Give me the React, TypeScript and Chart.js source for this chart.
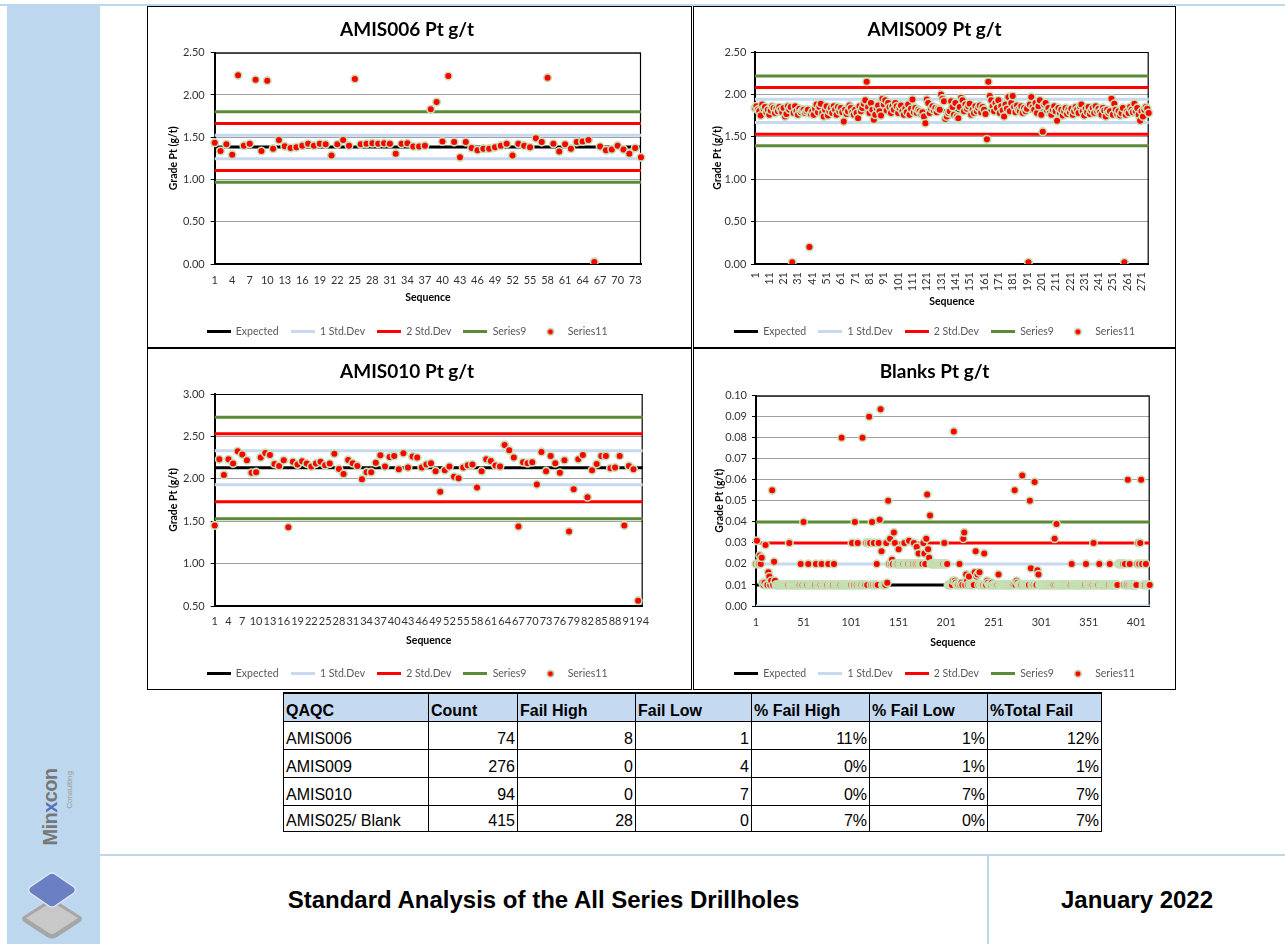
import React, { useEffect, useRef } from 'react';
import { Chart, registerables } from 'chart.js';

Chart.register(...registerables);

// ---------------- DATA ----------------
const LEGEND_LABELS = ['Expected', '1 Std.Dev', '2 Std.Dev', 'Series9', 'Series11'];

const AMIS006_VALUES = [
  1.435, 1.337, 1.416, 1.293, 2.232, 1.40, 1.423, 2.18, 1.337, 2.169,
  1.364, 1.467, 1.392, 1.372, 1.38, 1.40, 1.423, 1.40, 1.423, 1.416,
  1.285, 1.416, 1.467, 1.40, 2.19, 1.416, 1.423, 1.43, 1.423, 1.43,
  1.423, 1.305, 1.423, 1.43, 1.39, 1.39, 1.40, 1.83, 1.916, 1.45,
  2.224, 1.443, 1.262, 1.443, 1.372, 1.345, 1.364, 1.364, 1.38, 1.40,
  1.423, 1.285, 1.423, 1.40, 1.38, 1.487, 1.443, 2.204, 1.423, 1.33,
  1.416, 1.364, 1.443, 1.45, 1.467, 0.024, 1.39, 1.345, 1.356, 1.40,
  1.356, 1.305, 1.372, 1.262,
];
const AMIS006_EXPECTED = 1.383;
const AMIS006_SD1 = [1.522, 1.244];
const AMIS006_SD2 = [1.661, 1.105];
const AMIS006_SD3 = [1.8, 0.966];

const AMIS009_VALUES = [
  1.84, 1.86, 1.82, 1.80, 1.75, 1.88, 1.83, 1.85, 1.79, 1.82,
  1.76, 1.81, 1.86, 1.84, 1.78, 1.83, 1.80, 1.85, 1.82, 1.79,
  1.84, 1.74, 1.77, 1.86, 1.82, 1.85, 0.02, 1.78, 1.86, 1.80,
  1.76, 1.83, 1.79, 1.81, 1.82, 1.78, 1.80, 1.82, 0.20, 1.77,
  1.80, 1.76, 1.83, 1.88, 1.79, 1.85, 1.89, 1.78, 1.74, 1.82,
  1.86, 1.75, 1.80, 1.84, 1.78, 1.86, 1.82, 1.76, 1.85, 1.80,
  1.84, 1.79, 1.68, 1.82, 1.77, 1.80, 1.87, 1.84, 1.79, 1.76,
  1.82, 1.78, 1.72, 1.86, 1.80, 1.84, 1.89, 1.93, 2.15, 1.85,
  1.78, 1.90, 1.82, 1.70, 1.76, 1.84, 1.87, 1.80, 1.75, 1.95,
  1.88, 1.93, 1.81, 1.90, 1.85, 1.78, 1.86, 1.82, 1.90, 1.86,
  1.78, 1.84, 1.87, 1.80, 1.76, 1.83, 1.79, 1.88, 1.76, 1.83,
  1.94, 1.79, 1.84, 1.78, 1.82, 1.80, 1.77, 1.79, 1.74, 1.66,
  1.94, 1.90, 1.78, 1.83, 1.86, 1.81, 1.84, 1.79, 1.83, 1.82,
  2.00, 1.95, 1.92, 1.71, 1.74, 1.78, 1.80, 1.92, 1.85, 1.76,
  1.90, 1.74, 1.72, 1.85, 1.96, 1.93, 1.80, 1.88, 1.83, 1.86,
  1.89, 1.76, 1.82, 1.78, 1.86, 1.80, 1.84, 1.87, 1.79, 1.85,
  1.82, 1.77, 1.47, 2.15, 1.98, 1.93, 1.86, 1.80, 1.90, 1.84,
  1.93, 1.78, 1.86, 1.81, 1.74, 1.88, 1.83, 1.97, 1.80, 1.90,
  1.98, 1.85, 1.79, 1.87, 1.82, 1.80, 1.86, 1.78, 1.84, 1.80,
  1.83, 0.02, 1.88, 1.97, 1.85, 1.82, 1.90, 1.78, 1.86, 1.93,
  1.76, 1.56, 1.88, 1.90, 1.81, 1.84, 1.78, 1.76, 1.82, 1.86,
  1.80, 1.69, 1.84, 1.78, 1.82, 1.75, 1.80, 1.84, 1.77, 1.82,
  1.79, 1.83, 1.76, 1.80, 1.85, 1.82, 1.78, 1.86, 1.88, 1.80,
  1.75, 1.83, 1.79, 1.85, 1.77, 1.81, 1.84, 1.78, 1.86, 1.80,
  1.83, 1.79, 1.76, 1.84, 1.81, 1.74, 1.82, 1.78, 1.80, 1.95,
  1.76, 1.89, 1.82, 1.77, 1.80, 1.75, 1.78, 1.84, 0.02, 1.76,
  1.80, 1.78, 1.85, 1.82, 1.79, 1.89, 1.80, 1.84, 1.76, 1.69,
  1.80, 1.74, 1.82, 1.85, 1.83, 1.78,
];
const AMIS009_EXPECTED = 1.805;
const AMIS009_SD1 = [1.942, 1.668];
const AMIS009_SD2 = [2.08, 1.53];
const AMIS009_SD3 = [2.218, 1.393];

const AMIS010_VALUES = [
  1.45, 2.23, 2.046, 2.23, 2.18, 2.325, 2.286, 2.22, 2.07, 2.078,
  2.25, 2.305, 2.28, 2.176, 2.152, 2.22, 1.43, 2.20, 2.17, 2.207,
  2.18, 2.144, 2.18, 2.20, 2.16, 2.18, 2.294, 2.117, 2.058, 2.223,
  2.184, 2.152, 1.995, 2.078, 2.078, 2.188, 2.278, 2.144, 2.258, 2.27,
  2.113, 2.30, 2.133, 2.262, 2.25, 2.133, 2.168, 2.184, 2.09, 1.846,
  2.10, 2.144, 2.023, 2.007, 2.133, 2.16, 2.168, 1.897, 2.09, 2.23,
  2.211, 2.156, 2.144, 2.40, 2.337, 2.25, 1.438, 2.195, 2.184, 2.195,
  1.932, 2.317, 2.09, 2.27, 2.184, 2.07, 2.22, 1.379, 1.877, 2.23,
  2.28, 1.783, 2.10, 2.176, 2.27, 2.27, 2.125, 2.133, 2.27, 1.45,
  2.152, 2.113, 0.563, null,
];
const AMIS010_EXPECTED = 2.13;
const AMIS010_SD1 = [2.33, 1.93];
const AMIS010_SD2 = [2.53, 1.73];
const AMIS010_SD3 = [2.725, 1.528];

const BLANK_VALUES = [
  0.02, 0.031, 0.02, 0.02, 0.024, 0.02, 0.023, 0.011, 0.01, 0.011,
  0.029, 0.01, 0.01, 0.016, 0.014, 0.01, 0.012, 0.055, 0.01, 0.021,
  0.012, 0.01, 0.01, 0.01, 0.01, 0.01, 0.01, 0.01, 0.01, 0.01,
  0.01, 0.01, 0.01, 0.01, 0.01, 0.03, 0.01, 0.01, 0.01, 0.01,
  0.01, 0.01, 0.01, 0.01, 0.01, 0.01, 0.01, 0.02, 0.01, 0.01,
  0.04, 0.01, 0.01, 0.01, 0.01, 0.02, 0.01, 0.01, 0.01, 0.01,
  0.01, 0.01, 0.01, 0.02, 0.01, 0.01, 0.01, 0.01, 0.01, 0.02,
  0.01, 0.01, 0.01, 0.01, 0.01, 0.01, 0.02, 0.01, 0.01, 0.01,
  0.01, 0.01, 0.02, 0.01, 0.01, 0.01, 0.01, 0.01, 0.01, 0.01,
  0.08, 0.01, 0.01, 0.01, 0.01, 0.01, 0.01, 0.01, 0.01, 0.01,
  0.01, 0.03, 0.01, 0.01, 0.04, 0.01, 0.01, 0.03, 0.01, 0.01,
  0.01, 0.01, 0.08, 0.01, 0.01, 0.01, 0.03, 0.01, 0.03, 0.09,
  0.03, 0.01, 0.04, 0.01, 0.03, 0.01, 0.01, 0.02, 0.01, 0.03,
  0.041, 0.0935, 0.026, 0.01, 0.01, 0.01, 0.01, 0.03, 0.011, 0.05,
  0.02, 0.032, 0.02, 0.022, 0.02, 0.035, 0.03, 0.02, 0.02, 0.02,
  0.027, 0.02, 0.02, 0.02, 0.02, 0.02, 0.03, 0.02, 0.02, 0.02,
  0.02, 0.031, 0.02, 0.02, 0.02, 0.02, 0.03, 0.02, 0.02, 0.028,
  0.02, 0.025, 0.02, 0.02, 0.02, 0.02, 0.03, 0.025, 0.02, 0.032,
  0.053, 0.027, 0.023, 0.043, 0.02, 0.02, 0.02, 0.02, 0.02, 0.02,
  0.02, 0.02, 0.02, 0.02, 0.02, 0.02, 0.02, 0.02, 0.03, 0.02,
  0.02, 0.02, 0.01, 0.01, 0.01, 0.01, 0.01, 0.012, 0.083, 0.012,
  0.011, 0.01, 0.01, 0.01, 0.02, 0.01, 0.011, 0.01, 0.032, 0.035,
  0.01, 0.015, 0.012, 0.01, 0.014, 0.01, 0.01, 0.01, 0.01, 0.01,
  0.016, 0.026, 0.014, 0.015, 0.01, 0.016, 0.01, 0.01, 0.01, 0.01,
  0.025, 0.01, 0.01, 0.012, 0.011, 0.01, 0.01, 0.01, 0.011, 0.01,
  0.01, 0.01, 0.01, 0.01, 0.01, 0.015, 0.01, 0.01, 0.01, 0.01,
  0.01, 0.01, 0.01, 0.01, 0.01, 0.01, 0.01, 0.01, 0.01, 0.01,
  0.01, 0.01, 0.055, 0.01, 0.012, 0.011, 0.01, 0.01, 0.01, 0.01,
  0.062, 0.01, 0.01, 0.01, 0.01, 0.01, 0.01, 0.01, 0.05, 0.018,
  0.01, 0.01, 0.01, 0.059, 0.01, 0.01, 0.017, 0.015, 0.01, 0.01,
  0.01, 0.01, 0.01, 0.01, 0.01, 0.01, 0.01, 0.01, 0.01, 0.01,
  0.01, 0.01, 0.01, 0.01, 0.032, 0.01, 0.039, 0.01, 0.01, 0.01,
  0.01, 0.01, 0.01, 0.01, 0.01, 0.01, 0.01, 0.01, 0.01, 0.01,
  0.01, 0.01, 0.02, 0.01, 0.01, 0.01, 0.01, 0.01, 0.01, 0.01,
  0.01, 0.01, 0.01, 0.01, 0.01, 0.01, 0.01, 0.02, 0.01, 0.01,
  0.01, 0.01, 0.01, 0.01, 0.01, 0.03, 0.01, 0.01, 0.01, 0.01,
  0.01, 0.02, 0.01, 0.01, 0.01, 0.01, 0.01, 0.01, 0.01, 0.01,
  0.01, 0.01, 0.02, 0.01, 0.01, 0.01, 0.01, 0.01, 0.01, 0.01,
  0.01, 0.02, 0.02, 0.02, 0.02, 0.02, 0.02, 0.01, 0.02, 0.01,
  0.01, 0.06, 0.01, 0.02, 0.01, 0.01, 0.01, 0.01, 0.01, 0.01,
  0.01, 0.02, 0.03, 0.02, 0.03, 0.06, 0.02, 0.01, 0.01, 0.01,
  0.02, 0.01, 0.01, 0.01, 0.01,
];
const BLANK_EXPECTED = 0.01;
const BLANK_SD1 = [0.02, 0.0];
const BLANK_SD2 = [0.03, -0.01];
const BLANK_SD3 = [0.04, -0.02];

// table
const TABLE_HEADERS = ['QAQC', 'Count', 'Fail High', 'Fail Low', '% Fail High', '% Fail Low', '%Total Fail'];
const QAQC_NAMES = ['AMIS006', 'AMIS009', 'AMIS010', 'AMIS025/ Blank'];
const COUNTS = [74, 276, 94, 415];
const FAIL_HIGH = [8, 0, 0, 28];
const FAIL_LOW = [1, 4, 7, 0];
const PCT_FAIL_HIGH = ['11%', '0%', '0%', '7%'];
const PCT_FAIL_LOW = ['1%', '1%', '7%', '0%'];
const PCT_TOTAL_FAIL = ['12%', '1%', '7%', '7%'];

const FOOTER_TITLE = 'Standard Analysis of the All Series Drillholes';
const FOOTER_DATE = 'January 2022';

// ---------------- STYLE ----------------
const C_EXPECTED = '#000000';
const C_SD1 = '#c6d9f1';
const C_SD2 = '#ff0000';
const C_SD3 = '#5b8c35';
const C_POINT = '#ff0000';
const C_POINT_BORDER = '#c5e0b4';
const C_SIDEBAR = '#bdd7ee';

type Spec = {
  title: string;
  values: (number | null)[];
  expected: number;
  sd1: number[];
  sd2: number[];
  sd3: number[];
  yMin: number;
  yMax: number;
  yStep: number;
  xEvery: number;
  rotate: boolean;
  W: number;
  H: number;
  yWidth: number;
  padRight: number;
  dummyRight: number;
  plotTop: number;
  plotBottom: number;
  yTickPad: number;
  xTickPad: number;
  xTitlePad: number;
  yTitlePad: number;
};

const LEGEND_FONT = 10.5;
const LEGEND_PAD = 12;

function lineIcon(color: string) {
  const c = document.createElement('canvas');
  c.width = 24;
  c.height = 3;
  const x = c.getContext('2d')!;
  x.fillStyle = color;
  x.fillRect(0, 0, 24, 3);
  return c;
}
function dotIcon() {
  const c = document.createElement('canvas');
  c.width = 10;
  c.height = 10;
  const x = c.getContext('2d')!;
  x.beginPath();
  x.arc(5, 5, 3.3, 0, Math.PI * 2);
  x.fillStyle = C_POINT;
  x.fill();
  x.lineWidth = 1.5;
  x.strokeStyle = C_POINT_BORDER;
  x.stroke();
  return c;
}

const framePlugin = {
  id: 'frame',
  beforeDatasetsDraw(chart: any) {
    const { ctx, chartArea: a } = chart;
    ctx.save();
    ctx.strokeStyle = '#000';
    ctx.lineWidth = 1.2;
    ctx.beginPath();
    ctx.moveTo(a.left, a.top + 0.5);
    ctx.lineTo(a.right, a.top + 0.5);
    ctx.moveTo(a.right - 0.5, a.top);
    ctx.lineTo(a.right - 0.5, a.bottom);
    ctx.stroke();
    ctx.restore();
  },
};

function buildConfig(spec: Spec): any {
  const labels = spec.values.map((_, i) => String(i + 1));
  const first = labels[0];
  const last = labels[labels.length - 1];
  const hline = (label: string, v: number, color: string, icon: any) => ({
    type: 'line',
    label,
    data: [
      { x: first, y: v },
      { x: last, y: v },
    ],
    xAxisID: 'x',
    yAxisID: 'y',
    borderColor: color,
    backgroundColor: color,
    borderWidth: 3,
    pointRadius: 0,
    pointHoverRadius: 0,
    pointHitRadius: 0,
    fill: false,
    order: 1,
    legendIcon: icon,
  });
  const datasets: any[] = [
    hline(LEGEND_LABELS[0], spec.expected, C_EXPECTED, lineIcon(C_EXPECTED)),
    hline(LEGEND_LABELS[1], spec.sd1[0], C_SD1, lineIcon(C_SD1)),
    hline(LEGEND_LABELS[1], spec.sd1[1], C_SD1, null),
    hline(LEGEND_LABELS[2], spec.sd2[0], C_SD2, lineIcon(C_SD2)),
    hline(LEGEND_LABELS[2], spec.sd2[1], C_SD2, null),
    hline(LEGEND_LABELS[3], spec.sd3[0], C_SD3, lineIcon(C_SD3)),
    hline(LEGEND_LABELS[3], spec.sd3[1], C_SD3, null),
    {
      type: 'line',
      label: LEGEND_LABELS[4],
      data: spec.values,
      xAxisID: 'x',
      yAxisID: 'y',
      showLine: false,
      pointRadius: 3.8,
      pointHoverRadius: 3.8,
      pointBorderWidth: 1.6,
      pointBackgroundColor: C_POINT,
      pointBorderColor: C_POINT_BORDER,
      borderColor: C_POINT_BORDER,
      backgroundColor: C_POINT,
      order: 0,
      legendIcon: dotIcon(),
    },
  ];
  const legendH = LEGEND_FONT + LEGEND_PAD + 10;
  const xH = spec.H - legendH - spec.plotBottom;
  const titleSize = 19;
  const titleTop = 11.5;
  const titleBottom = spec.plotTop - titleTop - titleSize * 1.2;
  const tickFont = { family: 'Lato', size: 11 };
  const axisTitleFont = { family: 'Lato', size: 10.5, weight: 'bold' as const };

  return {
    type: 'line',
    data: { labels, datasets },
    options: {
      responsive: false,
      animation: false,
      devicePixelRatio: 1,
      events: [],
      layout: { padding: { left: 0, right: spec.padRight, top: 0, bottom: 0 } },
      plugins: {
        title: {
          display: true,
          text: spec.title,
          color: '#000',
          font: { family: 'Lato', size: titleSize, weight: 'bold', lineHeight: 1.2 },
          padding: { top: titleTop, bottom: titleBottom },
        },
        legend: {
          display: true,
          position: 'bottom',
          labels: {
            usePointStyle: true,
            pointStyleWidth: 24,
            padding: LEGEND_PAD,
            color: '#595959',
            font: { family: 'Lato', size: LEGEND_FONT },
            generateLabels: (chart: any) => {
              const items = (Chart as any).defaults.plugins.legend.labels.generateLabels(chart);
              return items.map((it: any) => ({
                ...it,
                pointStyle: chart.data.datasets[it.datasetIndex].legendIcon || it.pointStyle,
              }));
            },
            filter: (item: any, data: any) => !!data.datasets[item.datasetIndex].legendIcon,
            sort: (a: any, b: any) => a.datasetIndex - b.datasetIndex,
          },
        },
        tooltip: { enabled: false },
      },
      scales: {
        x: {
          type: 'category',
          offset: false,
          grid: { display: false, drawTicks: false },
          border: { display: true, color: '#000', width: 2 },
          ticks: {
            autoSkip: false,
            minRotation: spec.rotate ? 90 : 0,
            maxRotation: spec.rotate ? 90 : 0,
            padding: spec.xTickPad,
            color: '#333',
            font: tickFont,
            callback: (_v: any, index: number) => (index % spec.xEvery === 0 ? labels[index] : ''),
          },
          title: {
            display: true,
            text: 'Sequence',
            color: '#000',
            font: axisTitleFont,
            padding: { top: 0, bottom: spec.xTitlePad },
          },
          afterFit: (s: any) => {
            s.height = xH;
          },
        },
        y: {
          type: 'linear',
          position: 'left',
          min: spec.yMin,
          max: spec.yMax,
          ticks: {
            stepSize: spec.yStep,
            padding: spec.yTickPad,
            color: '#333',
            font: tickFont,
            callback: (v: any) => Number(v).toFixed(2),
          },
          grid: { color: '#a0a0a0', lineWidth: 1, drawTicks: true, tickLength: 4, tickColor: '#000' },
          border: { display: true, color: '#000', width: 2 },
          title: {
            display: true,
            text: 'Grade Pt (g/t)',
            color: '#000',
            font: axisTitleFont,
            padding: { top: spec.yTitlePad, bottom: 0 },
          },
          afterFit: (s: any) => {
            s.width = spec.yWidth;
          },
        },
        pad: {
          type: 'linear',
          position: 'right',
          display: true,
          grid: { display: false, drawTicks: false },
          border: { display: false },
          ticks: { display: false },
          afterFit: (s: any) => {
            s.width = spec.dummyRight;
          },
        },
      },
    },
    plugins: [framePlugin],
  };
}

function QCChart({ spec, left, top, width, height }: { spec: Spec; left: number; top: number; width: number; height: number }) {
  const ref = useRef<HTMLCanvasElement>(null);
  useEffect(() => {
    const chart = new Chart(ref.current!, buildConfig(spec));
    return () => chart.destroy();
  }, [spec]);
  return (
    <div
      style={{
        position: 'absolute',
        left,
        top,
        width,
        height,
        boxSizing: 'border-box',
        border: '1px solid #000',
        background: '#fff',
      }}
    >
      <canvas ref={ref} width={spec.W} height={spec.H} style={{ display: 'block', width: spec.W, height: spec.H }} />
    </div>
  );
}

const SPEC_006: Spec = {
  title: 'AMIS006 Pt g/t',
  values: AMIS006_VALUES,
  expected: AMIS006_EXPECTED,
  sd1: AMIS006_SD1,
  sd2: AMIS006_SD2,
  sd3: AMIS006_SD3,
  yMin: 0,
  yMax: 2.5,
  yStep: 0.5,
  xEvery: 3,
  rotate: false,
  W: 543,
  H: 340,
  yWidth: 66.7,
  padRight: 25,
  dummyRight: 25,
  plotTop: 45.7,
  plotBottom: 257,
  yTickPad: 6,
  xTickPad: 9.4,
  xTitlePad: 10.2,
  yTitlePad: 19.4,
};
const SPEC_009: Spec = {
  title: 'AMIS009 Pt g/t',
  values: AMIS009_VALUES,
  expected: AMIS009_EXPECTED,
  sd1: AMIS009_SD1,
  sd2: AMIS009_SD2,
  sd3: AMIS009_SD3,
  yMin: 0,
  yMax: 2.5,
  yStep: 0.5,
  xEvery: 10,
  rotate: true,
  W: 481,
  H: 340,
  yWidth: 61,
  padRight: 0,
  dummyRight: 26.3,
  plotTop: 45,
  plotBottom: 257,
  yTickPad: 4.7,
  xTickPad: 8,
  xTitlePad: 6.2,
  yTitlePad: 17.7,
};
const SPEC_010: Spec = {
  title: 'AMIS010 Pt g/t',
  values: AMIS010_VALUES,
  expected: AMIS010_EXPECTED,
  sd1: AMIS010_SD1,
  sd2: AMIS010_SD2,
  sd3: AMIS010_SD3,
  yMin: 0.5,
  yMax: 3.0,
  yStep: 0.5,
  xEvery: 3,
  rotate: false,
  W: 543,
  H: 340,
  yWidth: 66.7,
  padRight: 25,
  dummyRight: 23.3,
  plotTop: 45,
  plotBottom: 257,
  yTickPad: 6,
  xTickPad: 9,
  xTitlePad: 9.2,
  yTitlePad: 19.4,
};
const SPEC_BLANK: Spec = {
  title: 'Blanks Pt g/t',
  values: BLANK_VALUES,
  expected: BLANK_EXPECTED,
  sd1: BLANK_SD1,
  sd2: BLANK_SD2,
  sd3: BLANK_SD3,
  yMin: 0,
  yMax: 0.1,
  yStep: 0.01,
  xEvery: 50,
  rotate: false,
  W: 481,
  H: 340,
  yWidth: 62,
  padRight: 0,
  dummyRight: 25.3,
  plotTop: 46.7,
  plotBottom: 257,
  yTickPad: 5,
  xTickPad: 9.4,
  xTitlePad: 7.9,
  yTitlePad: 19.4,
};

const COL_WIDTHS = [145, 89, 118, 116, 118, 118, 114];

function SummaryTable() {
  const cell: React.CSSProperties = {
    border: '1px solid #000',
    padding: '0 2px 1px 2px',
    verticalAlign: 'bottom',
    lineHeight: '18px',
    whiteSpace: 'nowrap',
    overflow: 'hidden',
  };
  const rows = QAQC_NAMES.map((name, i) => [
    name,
    String(COUNTS[i]),
    String(FAIL_HIGH[i]),
    String(FAIL_LOW[i]),
    PCT_FAIL_HIGH[i],
    PCT_FAIL_LOW[i],
    PCT_TOTAL_FAIL[i],
  ]);
  return (
    <table
      style={{
        position: 'absolute',
        left: 283,
        top: 692,
        width: 818,
        borderCollapse: 'collapse',
        tableLayout: 'fixed',
        fontFamily: '"Liberation Sans", Arial, sans-serif',
        fontSize: 16,
        color: '#000',
        borderTop: '2px solid #000',
      }}
    >
      <colgroup>
        {COL_WIDTHS.map((w, i) => (
          <col key={i} style={{ width: w }} />
        ))}
      </colgroup>
      <tbody>
        <tr style={{ height: 28 }}>
          {TABLE_HEADERS.map((h, i) => (
            <td key={i} style={{ ...cell, background: '#c5d9f1', fontWeight: 'bold', textAlign: 'left', borderTop: '2px solid #000' }}>
              {h}
            </td>
          ))}
        </tr>
        {rows.map((r, ri) => (
          <tr key={ri} style={{ height: ri === 3 ? 26 : 28 }}>
            {r.map((v, ci) => (
              <td key={ci} style={{ ...cell, textAlign: ci === 0 ? 'left' : 'right' }}>
                {v}
              </td>
            ))}
          </tr>
        ))}
      </tbody>
    </table>
  );
}

function Logo() {
  return (
    <>
      <div
        style={{
          position: 'absolute',
          left: 10,
          top: 782,
          width: 80,
          height: 50,
          transform: 'rotate(-90deg)',
          transformOrigin: '50% 50%',
        }}
      >
        <div
          style={{
            position: 'absolute',
            left: 0,
            top: 13,
            width: 80,
            textAlign: 'center',
            fontFamily: '"Liberation Sans", Arial, sans-serif',
            fontWeight: 'bold',
            fontSize: 20,
            lineHeight: '24px',
            color: '#777777',
            letterSpacing: -0.6,
          }}
        >
          Min<span style={{ color: '#5a74b8' }}>x</span>con
        </div>
        <div
          style={{
            position: 'absolute',
            right: 4,
            top: 40,
            fontFamily: '"Liberation Sans", Arial, sans-serif',
            fontSize: 8,
            lineHeight: '10px',
            color: '#9a9a9a',
          }}
        >
          Consulting
        </div>
      </div>
      <svg style={{ position: 'absolute', left: 16, top: 866 }} width={74} height={76} viewBox="0 0 74 76">
        <path d="M36 32 L64 50 Q68 53 64 56 L41 71 Q36 74 31 71 L8 56 Q4 53 8 50 Z" fill="#a6a6a6" />
        <path d="M36 36 L62 52 L39 67 Q36 69 33 67 L10 52 Z" fill="#c8c8c8" />
        <path d="M33 8 Q36 6 39 8 L58 21 Q61 24 58 27 L39 40 Q36 42 33 40 L14 27 Q11 24 14 21 Z" fill="#6b80c3" stroke="#dfe6f6" strokeWidth={1.5} />
      </svg>
    </>
  );
}

export default function App() {
  useEffect(() => {
    document.body.style.margin = '0';
    document.body.style.background = '#fff';
  }, []);
  return (
    <div
      style={{
        position: 'absolute',
        left: 0,
        top: 0,
        width: 1285,
        height: 944,
        overflow: 'hidden',
        background: '#fff',
      }}
    >
      {/* top rule */}
      <div style={{ position: 'absolute', left: 0, top: 4, width: 1285, height: 2, background: C_SIDEBAR }} />
      {/* sidebar */}
      <div style={{ position: 'absolute', left: 7, top: 6, width: 93, height: 938, background: C_SIDEBAR }} />
      <Logo />

      <QCChart spec={SPEC_006} left={147} top={6} width={545} height={342} />
      <QCChart spec={SPEC_009} left={693} top={6} width={483} height={342} />
      <QCChart spec={SPEC_010} left={147} top={348} width={545} height={342} />
      <QCChart spec={SPEC_BLANK} left={693} top={348} width={483} height={342} />

      <SummaryTable />

      {/* footer rules */}
      <div style={{ position: 'absolute', left: 100, top: 854, width: 1185, height: 2, background: C_SIDEBAR }} />
      <div style={{ position: 'absolute', left: 987, top: 856, width: 2, height: 88, background: C_SIDEBAR }} />
      <div
        style={{
          position: 'absolute',
          left: 100,
          top: 856,
          width: 887,
          height: 88,
          display: 'flex',
          alignItems: 'center',
          justifyContent: 'center',
          fontFamily: '"Liberation Sans", Arial, sans-serif',
          fontWeight: 'bold',
          fontSize: 24,
          color: '#000',
        }}
      >
        {FOOTER_TITLE}
      </div>
      <div
        style={{
          position: 'absolute',
          left: 989,
          top: 856,
          width: 296,
          height: 88,
          display: 'flex',
          alignItems: 'center',
          justifyContent: 'center',
          fontFamily: '"Liberation Sans", Arial, sans-serif',
          fontWeight: 'bold',
          fontSize: 24,
          color: '#000',
        }}
      >
        {FOOTER_DATE}
      </div>
    </div>
  );
}
